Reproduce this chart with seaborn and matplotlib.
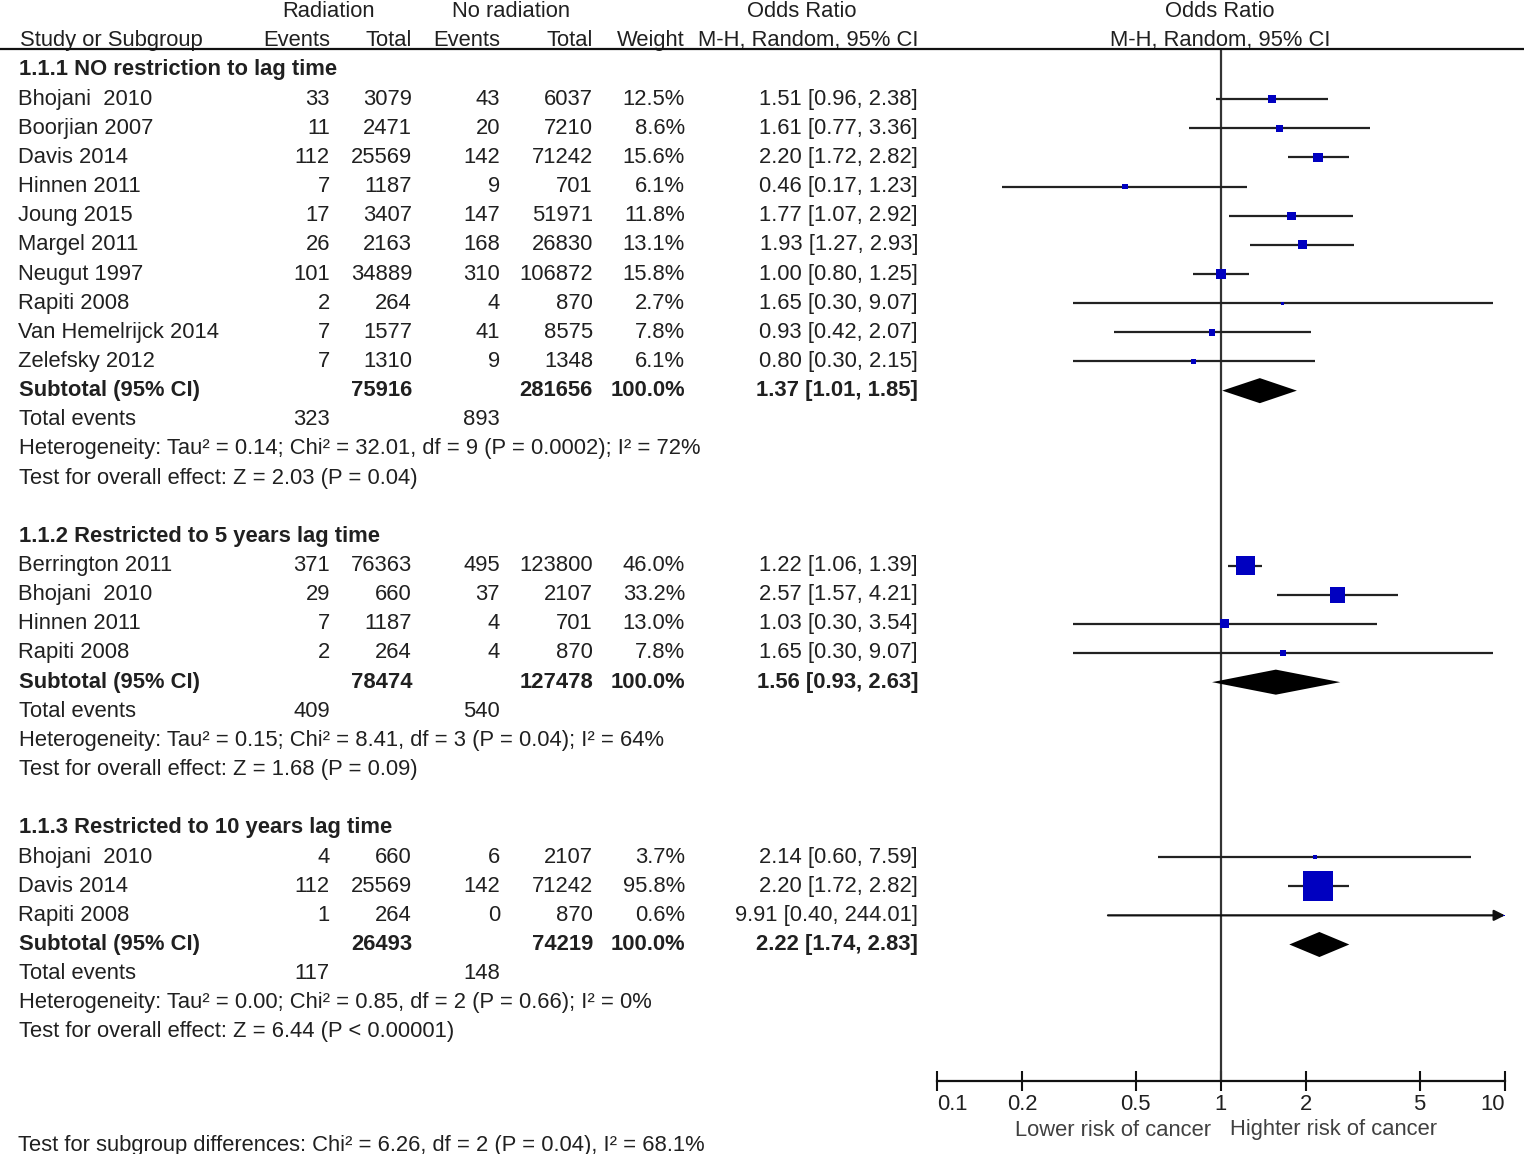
import numpy as np, pandas as pd
import matplotlib.pyplot as plt
import matplotlib.transforms as mtransforms
from matplotlib.lines import Line2D
import seaborn as sns

sns.set_theme(style='white')
plt.rcParams['font.family'] = ['Liberation Sans', 'DejaVu Sans']

# ---- data ----
group_titles = ['1.1.1 NO restriction to lag time',
                '1.1.2 Restricted to 5 years lag time',
                '1.1.3 Restricted to 10 years lag time']

g1_study = ['Bhojani  2010', 'Boorjian 2007', 'Davis 2014', 'Hinnen 2011', 'Joung 2015',
            'Margel 2011', 'Neugut 1997', 'Rapiti 2008', 'Van Hemelrijck 2014', 'Zelefsky 2012']
g1_ev_rad = [33, 11, 112, 7, 17, 26, 101, 2, 7, 7]
g1_tot_rad = [3079, 2471, 25569, 1187, 3407, 2163, 34889, 264, 1577, 1310]
g1_ev_no = [43, 20, 142, 9, 147, 168, 310, 4, 41, 9]
g1_tot_no = [6037, 7210, 71242, 701, 51971, 26830, 106872, 870, 8575, 1348]
g1_weight = [12.5, 8.6, 15.6, 6.1, 11.8, 13.1, 15.8, 2.7, 7.8, 6.1]
g1_or = [1.51, 1.61, 2.20, 0.46, 1.77, 1.93, 1.00, 1.65, 0.93, 0.80]
g1_lo = [0.96, 0.77, 1.72, 0.17, 1.07, 1.27, 0.80, 0.30, 0.42, 0.30]
g1_hi = [2.38, 3.36, 2.82, 1.23, 2.92, 2.93, 1.25, 9.07, 2.07, 2.15]

g2_study = ['Berrington 2011', 'Bhojani  2010', 'Hinnen 2011', 'Rapiti 2008']
g2_ev_rad = [371, 29, 7, 2]
g2_tot_rad = [76363, 660, 1187, 264]
g2_ev_no = [495, 37, 4, 4]
g2_tot_no = [123800, 2107, 701, 870]
g2_weight = [46.0, 33.2, 13.0, 7.8]
g2_or = [1.22, 2.57, 1.03, 1.65]
g2_lo = [1.06, 1.57, 0.30, 0.30]
g2_hi = [1.39, 4.21, 3.54, 9.07]

g3_study = ['Bhojani  2010', 'Davis 2014', 'Rapiti 2008']
g3_ev_rad = [4, 112, 1]
g3_tot_rad = [660, 25569, 264]
g3_ev_no = [6, 142, 0]
g3_tot_no = [2107, 71242, 870]
g3_weight = [3.7, 95.8, 0.6]
g3_or = [2.14, 2.20, 9.91]
g3_lo = [0.60, 1.72, 0.40]
g3_hi = [7.59, 2.82, 244.01]

sub_tot_rad = [75916, 78474, 26493]
sub_tot_no = [281656, 127478, 74219]
sub_or = [1.37, 1.56, 2.22]
sub_lo = [1.01, 0.93, 1.74]
sub_hi = [1.85, 2.63, 2.83]
sub_ev_rad = [323, 409, 117]
sub_ev_no = [893, 540, 148]
het_text = ['Heterogeneity: Tau\u00b2 = 0.14; Chi\u00b2 = 32.01, df = 9 (P = 0.0002); I\u00b2 = 72%',
            'Heterogeneity: Tau\u00b2 = 0.15; Chi\u00b2 = 8.41, df = 3 (P = 0.04); I\u00b2 = 64%',
            'Heterogeneity: Tau\u00b2 = 0.00; Chi\u00b2 = 0.85, df = 2 (P = 0.66); I\u00b2 = 0%']
effect_text = ['Test for overall effect: Z = 2.03 (P = 0.04)',
               'Test for overall effect: Z = 1.68 (P = 0.09)',
               'Test for overall effect: Z = 6.44 (P < 0.00001)']
subgroup_text = 'Test for subgroup differences: Chi\u00b2 = 6.26, df = 2 (P = 0.04), I\u00b2 = 68.1%'

xticks = [0.1, 0.2, 0.5, 1, 2, 5, 10]
xticklabels = ['0.1', '0.2', '0.5', '1', '2', '5', '10']

studies = [
    (g1_study, g1_ev_rad, g1_tot_rad, g1_ev_no, g1_tot_no, g1_weight, g1_or, g1_lo, g1_hi),
    (g2_study, g2_ev_rad, g2_tot_rad, g2_ev_no, g2_tot_no, g2_weight, g2_or, g2_lo, g2_hi),
    (g3_study, g3_ev_rad, g3_tot_rad, g3_ev_no, g3_tot_no, g3_weight, g3_or, g3_lo, g3_hi),
]

# ---- layout ----
W, H = 1524, 1154
ROW0, ROWH = 70, 29.15
FS = 15.8
TC = '#202020'
BLUE = '#0000c0'

def px2row(y):
    return (y - ROW0) / ROWH

fig = plt.figure(figsize=(W / 100, H / 100), dpi=100)
ax_left, ax_right, ax_top, ax_bot = 937, 1505, 49, 1081
ax = fig.add_axes([ax_left / W, 1 - ax_bot / H, (ax_right - ax_left) / W, (ax_bot - ax_top) / H])
ax.set_xscale('log')
ax.set_xlim(0.1, 10)
ax.set_ylim(px2row(ax_bot), px2row(ax_top))
trans = mtransforms.blended_transform_factory(fig.transFigure, ax.transData)

def put(xpx, r, s, ha='left', bold=False, color=TC):
    ax.text(xpx / W, r, s, transform=trans, ha=ha, va='center', fontsize=FS,
            fontweight='bold' if bold else 'normal', color=color, clip_on=False)

# build long table of study rows and summary rows
rows_tab = []
sum_tab = []
r = 0
for g in range(3):
    name, evr, totr, evn, totn, wt, orr, lo, hi = studies[g]
    put(19, r, group_titles[g], bold=True)
    r += 1
    for i in range(len(name)):
        rows_tab.append(dict(row=r, name=name[i], evr=evr[i], totr=totr[i], evn=evn[i],
                             totn=totn[i], weight=wt[i], orr=orr[i], lo=lo[i], hi=hi[i]))
        r += 1
    sum_tab.append(dict(row=r, totr=sub_tot_rad[g], totn=sub_tot_no[g], orr=sub_or[g],
                        lo=sub_lo[g], hi=sub_hi[g]))
    put(19, r, 'Subtotal (95% CI)', bold=True)
    put(412, r, str(sub_tot_rad[g]), ha='right', bold=True)
    put(593, r, str(sub_tot_no[g]), ha='right', bold=True)
    put(685, r, '100.0%', ha='right', bold=True)
    put(918, r, f'{sub_or[g]:.2f} [{sub_lo[g]:.2f}, {sub_hi[g]:.2f}]', ha='right', bold=True)
    r += 1
    put(19, r, 'Total events')
    put(330, r, str(sub_ev_rad[g]), ha='right')
    put(500, r, str(sub_ev_no[g]), ha='right')
    r += 1
    put(19, r, het_text[g])
    r += 1
    put(19, r, effect_text[g])
    r += 2

df = pd.DataFrame(rows_tab)
sdf = pd.DataFrame(sum_tab)

for _, s in df.iterrows():
    put(18, s.row, s['name'])
    put(330, s.row, str(s.evr), ha='right')
    put(412, s.row, str(s.totr), ha='right')
    put(500, s.row, str(s.evn), ha='right')
    put(593, s.row, str(s.totn), ha='right')
    put(685, s.row, f'{s.weight:.1f}%', ha='right')
    put(918, s.row, f'{s.orr:.2f} [{s.lo:.2f}, {s.hi:.2f}]', ha='right')

# headers
put(328, -2, 'Radiation', ha='center')
put(511, -2, 'No radiation', ha='center')
put(802, -2, 'Odds Ratio', ha='center')
put(1220, -2, 'Odds Ratio', ha='center')
put(20, -1, 'Study or Subgroup')
put(330, -1, 'Events', ha='right')
put(412, -1, 'Total', ha='right')
put(500, -1, 'Events', ha='right')
put(593, -1, 'Total', ha='right')
put(685, -1, 'Weight', ha='right')
put(918, -1, 'M-H, Random, 95% CI', ha='right')
put(1220, -1, 'M-H, Random, 95% CI', ha='center')
fig.add_artist(Line2D([0, 1], [1 - 49 / H, 1 - 49 / H], transform=fig.transFigure,
                      color='#111111', lw=1.6))

# confidence intervals
inside = df[df.hi <= 10]
ax.hlines(inside.row, inside.lo, inside.hi, color='#222222', lw=1.6, zorder=2)
for _, s in df[df.hi > 10].iterrows():
    ax.annotate('', xy=(10, s.row), xytext=(s.lo, s.row),
                arrowprops=dict(arrowstyle='-|>', lw=1.6, color='#111111',
                                mutation_scale=16, shrinkA=0, shrinkB=0))

# weighted squares
side_px = 1.8 * df.weight.values ** 0.62
df['area'] = (side_px * 0.72) ** 2
sns.scatterplot(data=df, x='orr', y='row', size='area',
                sizes=(df.area.min(), df.area.max()), marker='s', color=BLUE,
                linewidth=0, legend=False, ax=ax, zorder=3)

# pooled diamonds
for _, s in sdf.iterrows():
    ax.fill([s.lo, s.orr, s.hi, s.orr], [s.row, s.row - 0.43, s.row, s.row + 0.43],
            color='black', lw=0, zorder=3)

ax.axvline(1, color='#333333', lw=1.6, zorder=1)

# axis styling
for sp in ['left', 'right', 'top']:
    ax.spines[sp].set_visible(False)
ax.spines['bottom'].set_color('#111111')
ax.spines['bottom'].set_linewidth(1.6)
ax.set_yticks([])
ax.set_xlabel('')
ax.set_ylabel('')
ax.minorticks_off()
ax.set_xticks(xticks)
ax.set_xticklabels(xticklabels)
ax.tick_params(axis='x', direction='inout', length=14, width=1.5, color='#111111',
               labelsize=FS, labelcolor=TC, pad=2, bottom=True)
ax.get_xticklabels()[0].set_ha('left')
ax.get_xticklabels()[-1].set_ha('right')

fig.text(1211 / W, 1 - 1130 / H, 'Lower risk of cancer', ha='right', va='center',
         fontsize=FS, color='#404040')
fig.text(1230 / W, 1 - 1130 / H, 'Highter risk of cancer', ha='left', va='center',
         fontsize=FS, color='#404040')
fig.text(18 / W, 1 - 1145 / H, subgroup_text, ha='left', va='center', fontsize=FS, color=TC)

fig.savefig('out.png', dpi=100, facecolor='white')
